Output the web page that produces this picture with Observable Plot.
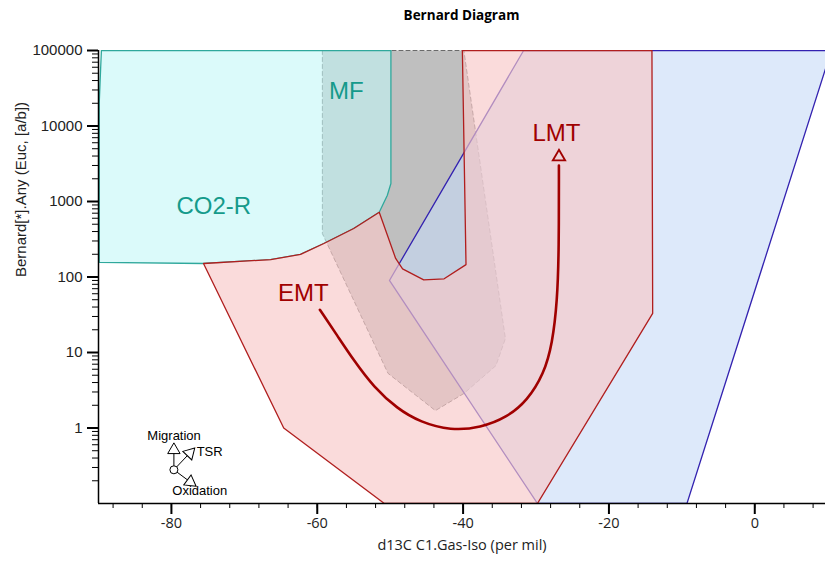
<!DOCTYPE html>
<html><head><meta charset="utf-8">
<script src="https://cdn.jsdelivr.net/npm/d3@7"></script>
<script src="https://cdn.jsdelivr.net/npm/@observablehq/plot@0.6"></script>
<style>
html,body{margin:0;padding:0;background:#fff;overflow:hidden;}
#title{height:30px;width:825px;box-sizing:border-box;padding-left:98px;text-align:center;font:700 13.5px "Open Sans",sans-serif;line-height:30px;color:#000;}
#chart svg{display:block;}
</style></head><body>
<div id="title">Bernard Diagram</div>
<div id="chart"></div>
<script>
// ---- data (d13C per mil, Bernard ratio) ----
const co2rX = [-89.6, -89.7, -89.9, -89.9, -75.6, -66.4, -62.3, -59.1, -55.0, -51.5, -50.4, -49.9, -49.9];
const co2rY = [100000, 60000, 20000, 156, 151, 170, 199, 278, 439, 722, 1200, 1730, 100000];

const mfX = [-59.3, -59.3, -50.3, -43.8, -39.9, -35.5, -34.2, -39.9];
const mfY = [100000, 377, 5.3, 1.7, 2.86, 6.7, 15.3, 100000];

const emtX = [-75.6, -64.6, -50.8, -29.8, -14.0, -14.1, -40.1, -39.6, -42.6, -45.4, -48.3, -49.25, -51.5, -55.0, -59.1, -62.3, -66.4];
const emtY = [151, 1.0, 0.1, 0.1, 33, 100000, 100000, 146, 94.7, 91.8, 128, 176, 722, 439, 278, 199, 170];

const lmtX = [-31.7, -50.1, -29.8, -9.3, 10.5];
const lmtY = [100000, 90, 0.1, 0.1, 100000];

const pathX = [-59.64, -57.26, -54.98, -52.24, -49.03, -45.83, -41.71, -37.60, -33.94, -31.19, -28.92, -27.76, -27.08, -26.86, -26.86];
const pathY = [36.8, 16.8, 7.83, 3.47, 1.8, 1.19, 0.927, 1.006, 1.39, 2.31, 5.22, 13.0, 48.8, 224, 3000];
const arrowTip = {x: -26.85, y: 3900};

const labelText = ["CO2-R", "MF", "EMT", "LMT"];
const labelX = [-74.2, -56.0, -61.9, -27.2];
const labelY = [859, 29000, 60.4, 8070];

const legendOrigin = {x: -79.66, y: 0.2795};
const legendNames = ["Migration", "TSR", "Oxidation"];
const legendArrowX = [-79.66, -77.48, -77.41];
const legendArrowY = [0.511, 0.465, 0.1927];
const legendAngle = [0, 44, 126];
const legendTextX = [-83.3, -76.54, -79.88];
const legendTextY = [0.796, 0.478, 0.1486];

const xMajor = [-80, -60, -40, -20, 0];
const xMinor = d3.range(-88, 9, 4);
const yMajor = [1, 10, 100, 1000, 10000, 100000];
const yMinor = [0.1, 1, 10, 100, 1000, 10000].flatMap(d => d3.range(2, 10).map(k => k * d));

const poly = (xs, ys) => xs.map((x, i) => ({x, y: ys[i]}));
const pts = (xs, ys) => xs.map((x, i) => ({x, y: ys[i], i}));

const chart = Plot.plot({
  width: 825, height: 533,
  marginTop: 20, marginBottom: 60, marginLeft: 98, marginRight: 0,
  x: {domain: [-90, 9.7]},
  y: {type: "log", domain: [0.1, 100000]},
  style: {background: "#fff"},
  marks: [
    // MF (bottom layer)
    Plot.line(poly(mfX, mfY), {x: "x", y: "y", curve: "linear-closed", fill: "#808080", fillOpacity: 0.5, stroke: "#6a6a6a", strokeWidth: 1, strokeDasharray: "4,3", clip: true}),
    // LMT field (blue)
    Plot.line(poly(lmtX, lmtY), {x: "x", y: "y", curve: "linear-closed", fill: "#c6daf7", fillOpacity: 0.6, stroke: "#3322b0", strokeWidth: 1.3, clip: true}),
    // CO2-R (cyan)
    Plot.line(poly(co2rX, co2rY), {x: "x", y: "y", curve: "linear-closed", fill: "#c3f6f6", fillOpacity: 0.6, stroke: "#2fa89c", strokeWidth: 1.3, clip: true}),
    // EMT (pink)
    Plot.line(poly(emtX, emtY), {x: "x", y: "y", curve: "linear-closed", fill: "#f8c8c8", fillOpacity: 0.65, stroke: "#b01e1e", strokeWidth: 1.3, clip: true}),
    // maturity path
    Plot.line(poly(pathX, pathY), {x: "x", y: "y", curve: "basis", stroke: "#a00000", strokeWidth: 2.6}),
    Plot.dot([arrowTip], {x: "x", y: "y", symbol: "triangle", r: 4.6, fill: "none", stroke: "#a00000", strokeWidth: 1.8}),
    // region labels
    Plot.text(pts(labelX, labelY).slice(0, 2), {x: "x", y: "y", text: d => labelText[d.i], fontSize: 24, fontFamily: "Liberation Sans, Arial, sans-serif", fill: "#159a8b"}),
    Plot.text(pts(labelX, labelY).slice(2), {x: "x", y: "y", text: d => labelText[d.i], fontSize: 24, fontFamily: "Liberation Sans, Arial, sans-serif", fill: "#a00000"}),
    // process legend glyph
    Plot.link(pts(legendArrowX, legendArrowY), {x1: () => legendOrigin.x, y1: () => legendOrigin.y, x2: "x", y2: "y", stroke: "#000", strokeWidth: 1}),
    Plot.dot(pts(legendArrowX, legendArrowY), {x: "x", y: "y", symbol: "triangle", r: 4.6, rotate: d => legendAngle[d.i], fill: "#fff", stroke: "#000", strokeWidth: 1}),
    Plot.dot([legendOrigin], {x: "x", y: "y", r: 4, fill: "#fff", stroke: "#000", strokeWidth: 1}),
    Plot.text(pts(legendTextX, legendTextY), {x: "x", y: "y", text: d => legendNames[d.i], textAnchor: "start", fontSize: 13, fontFamily: "Liberation Sans, Arial, sans-serif", fill: "#000"}),
    // axes
    Plot.axisX(xMinor, {tickSize: 5, tickFormat: () => "", label: null, stroke: "#000", strokeWidth: 1}),
    Plot.axisX(xMajor, {tickSize: 11, tickPadding: 3, tickFormat: d => String(d), label: null, stroke: "#000", strokeWidth: 2, fontSize: 14.5, fontFamily: "Open Sans, sans-serif", fill: "#222"}),
    Plot.axisY(yMinor, {tickSize: 6, tickFormat: () => "", label: null, stroke: "#000", strokeWidth: 1}),
    Plot.axisY(yMajor, {tickSize: 11, tickPadding: 5, tickFormat: d => String(d), label: null, stroke: "#000", strokeWidth: 2, fontSize: 15, fontFamily: "Liberation Sans, Arial, sans-serif", fill: "#222"}),
    Plot.ruleY([0.1], {stroke: "#000", strokeWidth: 1.5}),
    Plot.ruleX([-90], {stroke: "#000", strokeWidth: 1.5}),
    Plot.text(["d13C C1.Gas-Iso (per mil)"], {frameAnchor: "bottom", dy: 46, fontSize: 14.5, fontFamily: "Open Sans, sans-serif", fill: "#222"}),
    Plot.text(["Bernard[*].Any (Euc, [a/b])"], {frameAnchor: "left", dx: -77, rotate: -90, fontSize: 15, fontFamily: "Liberation Sans, Arial, sans-serif", fill: "#222"})
  ]
});
document.getElementById("chart").append(chart);
</script>
</body></html>
